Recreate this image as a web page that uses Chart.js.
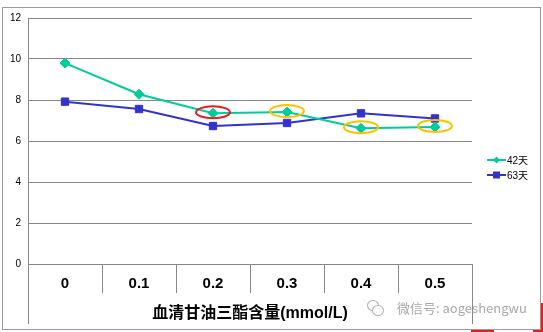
<!DOCTYPE html>
<html>
<head>
<meta charset="utf-8">
<script src="https://cdn.jsdelivr.net/npm/chart.js@4.4.0/dist/chart.umd.min.js"></script>
<style>
  html, body { margin: 0; padding: 0; background: #fff; }
  #wrap { position: relative; width: 543px; height: 332px; overflow: hidden; }
  .red { position: absolute; background: #e0201c; }
  #frame { position: absolute; left: 2px; top: 7px; width: 537px; height: 321px; border: 1px solid #9a9a9a; background: #fff; }
  canvas { position: absolute; left: 0; top: 0; }
  #wm { position: absolute; left: 397px; top: 298px; font: 13px "Noto Sans CJK SC", sans-serif; color: #a8a8a8; white-space: nowrap; }
  .bub { position: absolute; border: 1px solid #b0b0b0; border-radius: 50%; background: #fff; }
</style>
</head>
<body>
<div id="wrap">
  <div class="red" style="left:533px;top:303px;width:10px;height:29px"></div>
  <div class="red" style="left:471px;top:329px;width:23px;height:3px"></div>
  <div id="frame"></div>
  <canvas id="chart" width="543" height="332"></canvas>
  <div class="bub" style="left:367px;top:300px;width:10px;height:9px"></div>
  <div class="bub" style="left:372px;top:305px;width:10px;height:9px"></div>
  <div id="wm">微信号: aogeshengwu</div>
</div>
<script>
// === Data ===
const doses = ["0", "0.1", "0.2", "0.3", "0.4", "0.5"];
const day42 = [9.8, 8.28, 7.35, 7.41, 6.62, 6.68];
const day63 = [7.92, 7.56, 6.73, 6.88, 7.35, 7.1];
const seriesNames = ["42天", "63天"];
const xTitle = "血清甘油三酯含量(mmol/L)";

// points of 42天 that are ringed in the picture
const circled = [2, 3, 4, 5];
const circleColors = ["#e81c1c", "#ffc000", "#ffc000", "#ffc000"];

const FONT = "Arial, 'Liberation Sans', 'Noto Sans CJK SC', sans-serif";

// === Marker helper ===
function marker(ctx, style, x, y, r, color) {
  ctx.fillStyle = color;
  ctx.beginPath();
  if (style === "rect") {
    ctx.rect(x - r, y - r, 2 * r, 2 * r);
  } else {
    ctx.moveTo(x - r, y);
    ctx.lineTo(x, y - r);
    ctx.lineTo(x + r, y);
    ctx.lineTo(x, y + r);
    ctx.closePath();
  }
  ctx.fill();
}

// === Extras: axis box extensions, ellipses, legend ===
const extras = {
  id: "extras",
  afterDraw(chart) {
    const ctx = chart.ctx;
    const x = chart.scales.x, y = chart.scales.y;
    ctx.save();

    // outer category lines run down to the bottom of the axis
    ctx.strokeStyle = "#888";
    ctx.lineWidth = 1;
    ctx.beginPath();
    [x.left, x.right].forEach((px) => {
      const p = Math.round(px) + 0.5;
      ctx.moveTo(p, y.bottom);
      ctx.lineTo(p, x.bottom);
    });
    ctx.stroke();

    // ellipses round the marked points
    const meta = chart.getDatasetMeta(0);
    ctx.lineWidth = 2;
    circled.forEach((idx, k) => {
      const p = meta.data[idx];
      ctx.strokeStyle = circleColors[k];
      ctx.beginPath();
      ctx.ellipse(p.x, p.y - 1, 17, 6, 0, 0, Math.PI * 2);
      ctx.stroke();
    });

    // legend
    ctx.font = "10px " + FONT;
    ctx.textBaseline = "middle";
    chart.data.datasets.forEach((ds, i) => {
      const ly = 160 + i * 15;
      ctx.strokeStyle = ds.borderColor;
      ctx.lineWidth = 2;
      ctx.beginPath();
      ctx.moveTo(487, ly);
      ctx.lineTo(506, ly);
      ctx.stroke();
      marker(ctx, ds.pointStyle, 496.5, ly, 3.5, ds.borderColor);
      ctx.fillStyle = "#000";
      ctx.fillText(ds.label, 507, ly + 1);
    });
    ctx.restore();
  },
};

new Chart(document.getElementById("chart"), {
  type: "line",
  data: {
    labels: doses,
    datasets: [
      {
        label: seriesNames[0],
        data: day42,
        borderColor: "#00cc99",
        backgroundColor: "#00cc99",
        borderWidth: 2,
        pointStyle: "rectRot",
        pointRadius: 5,
        pointBorderWidth: 1,
        tension: 0,
      },
      {
        label: seriesNames[1],
        data: day63,
        borderColor: "#3333cc",
        backgroundColor: "#3333cc",
        borderWidth: 2,
        pointStyle: "rect",
        pointRadius: 5.2,
        pointBorderWidth: 1,
        tension: 0,
      },
    ],
  },
  options: {
    responsive: false,
    animation: false,
    layout: { padding: { left: 2, top: 18, right: 71, bottom: 8 } },
    plugins: { legend: { display: false }, tooltip: { enabled: false } },
    scales: {
      x: {
        offset: true,
        grid: { offset: true, drawOnChartArea: false, tickLength: 29, color: "#888" },
        border: { color: "#888" },
        ticks: { color: "#000", font: { family: FONT, size: 15, weight: "bold" }, padding: -18 },
        title: {
          display: true,
          text: xTitle,
          color: "#000",
          font: { family: FONT, size: 16, weight: "bold" },
          padding: { top: 0, bottom: 1 },
        },
        afterFit: (s) => { s.height = 60; },
      },
      y: {
        min: 0,
        max: 12,
        ticks: { stepSize: 2, color: "#000", font: { family: FONT, size: 10 }, padding: 7 },
        grid: { color: "#888", drawTicks: false },
        border: { color: "#888" },
        afterFit: (s) => { s.width = 26; },
      },
    },
  },
  plugins: [extras],
});
</script>
</body>
</html>
